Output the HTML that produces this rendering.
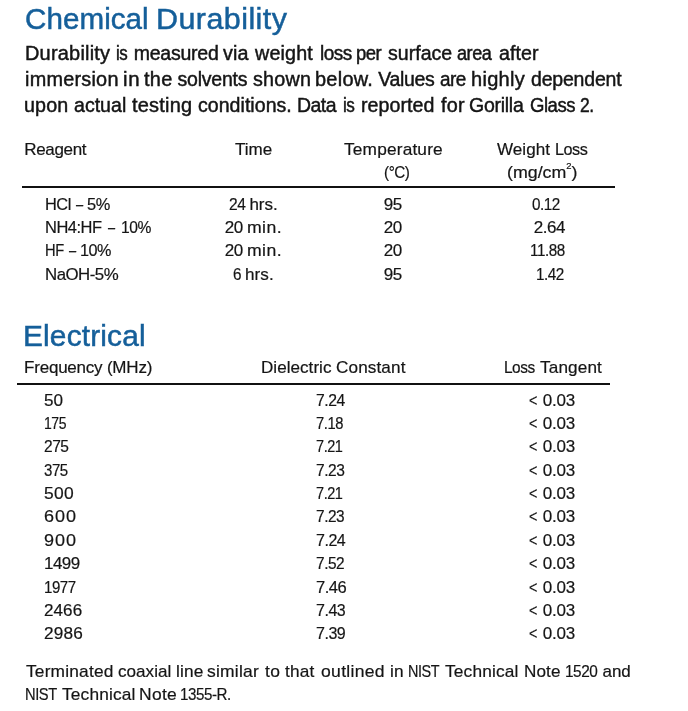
<!DOCTYPE html>
<html><head><meta charset="utf-8">
<style>
html,body{margin:0;padding:0;background:#fff}
body{width:688px;height:711px;position:relative;overflow:hidden;font-family:"Liberation Sans",Arial,sans-serif;color:#151515}
div{position:absolute;white-space:nowrap;line-height:1;transform-origin:0 0;left:0;top:0}
.a{font-size:29.5px;color:#155f9a;-webkit-text-stroke:0.5px #155f9a}
.b{filter:grayscale(1);font-size:19.5px;-webkit-text-stroke:0.45px #151515}
.c{filter:grayscale(1);font-size:17px;-webkit-text-stroke:0.2px #151515}
sup{font-size:9px;vertical-align:9px;line-height:0}
i{display:inline-block;width:0;height:0}
.r{background:#111}
</style></head><body>
<div class="a" style="left:24.50px;top:4.30px;letter-spacing:0.05px;transform:scaleX(1.003)">Chemical</div>
<div class="a" style="left:156.04px;top:4.30px;letter-spacing:0.44px;transform:scaleX(1.032)">Durability</div>
<div class="c" style="left:24.25px;top:140.70px;letter-spacing:-0.33px">Reagent</div>
<div class="c" style="left:235.00px;top:140.70px">Time</div>
<div class="c" style="left:344.20px;top:140.70px;letter-spacing:0.16px;transform:scaleX(1.017)">Temperature</div>
<div class="c" style="left:383.80px;top:163.50px;letter-spacing:-0.50px;transform:scaleX(0.898)">(°C)</div>
<div class="c" style="left:497.30px;top:140.70px;letter-spacing:0.04px;transform:scaleX(1.004)">Weight</div>
<div class="c" style="left:554.85px;top:140.70px;letter-spacing:-0.50px;transform:scaleX(0.954)">Loss</div>
<div class="c" style="left:507.45px;top:163.50px;transform:scaleX(1.047)">(mg/cm<sup>2</sup>)</div>
<div class="c" style="left:45.34px;top:195.90px;letter-spacing:-0.50px;transform:scaleX(0.964)">HCl</div>
<div class="c" style="left:76.10px;top:195.90px;transform:scaleX(0.760)">–</div>
<div class="c" style="left:87.14px;top:195.90px;letter-spacing:-0.50px;transform:scaleX(0.964)">5%</div>
<div class="c" style="left:45.33px;top:218.90px;letter-spacing:-0.50px;transform:scaleX(0.969)">NH4:HF</div>
<div class="c" style="left:108.40px;top:218.90px;transform:scaleX(0.750)">–</div>
<div class="c" style="left:120.68px;top:218.90px;letter-spacing:-0.50px;transform:scaleX(0.919)">10%</div>
<div class="c" style="left:45.44px;top:242.40px;letter-spacing:-0.50px;transform:scaleX(0.863)">HF</div>
<div class="c" style="left:69.10px;top:242.40px;transform:scaleX(0.760)">–</div>
<div class="c" style="left:80.15px;top:242.40px;letter-spacing:-0.50px;transform:scaleX(0.953)">10%</div>
<div class="c" style="left:45.31px;top:265.60px;letter-spacing:-0.50px;transform:scaleX(0.989)">NaOH-5%</div>
<div class="c" style="left:228.99px;top:195.90px;letter-spacing:-0.50px;transform:scaleX(0.914)">24</div>
<div class="c" style="left:249.40px;top:195.90px;letter-spacing:-0.03px">hrs.</div>
<div class="c" style="left:224.70px;top:218.90px;letter-spacing:-0.30px">20</div>
<div class="c" style="left:247.06px;top:218.90px;letter-spacing:0.40px;transform:scaleX(1.038)">min.</div>
<div class="c" style="left:224.70px;top:242.40px;letter-spacing:-0.30px">20</div>
<div class="c" style="left:247.06px;top:242.40px;letter-spacing:0.40px;transform:scaleX(1.038)">min.</div>
<div class="c" style="left:232.80px;top:265.60px;transform:scaleX(0.900)">6</div>
<div class="c" style="left:244.89px;top:265.60px;letter-spacing:0.05px;transform:scaleX(1.006)">hrs.</div>
<div class="c" style="left:383.70px;top:195.90px;letter-spacing:-0.50px">95</div>
<div class="c" style="left:383.70px;top:218.90px;letter-spacing:-0.50px">20</div>
<div class="c" style="left:383.70px;top:242.40px;letter-spacing:-0.50px">20</div>
<div class="c" style="left:383.70px;top:265.60px;letter-spacing:-0.50px">95</div>
<div class="c" style="left:532.20px;top:195.90px;letter-spacing:-0.50px;transform:scaleX(0.898)">0.12</div>
<div class="c" style="left:533.70px;top:218.90px;letter-spacing:-0.47px">2.64</div>
<div class="c" style="left:530.41px;top:242.40px;letter-spacing:-0.50px;transform:scaleX(0.895)">11.88</div>
<div class="c" style="left:535.70px;top:265.60px;letter-spacing:-0.50px;transform:scaleX(0.898)">1.42</div>
<div class="a" style="left:22.78px;top:320.50px;letter-spacing:0.16px;transform:scaleX(1.012)">Electrical</div>
<div class="c" style="left:24.10px;top:359.30px;letter-spacing:-0.23px">Frequency</div>
<div class="c" style="left:106.90px;top:359.30px;letter-spacing:-0.20px">(MHz)</div>
<div class="c" style="left:261.00px;top:359.00px;letter-spacing:0.03px;transform:scaleX(1.004)">Dielectric</div>
<div class="c" style="left:335.89px;top:359.00px;letter-spacing:0.10px;transform:scaleX(1.010)">Constant</div>
<div class="c" style="left:503.59px;top:359.00px;letter-spacing:-0.50px;transform:scaleX(0.907)">Loss</div>
<div class="c" style="left:540.00px;top:359.00px;letter-spacing:0.12px;transform:scaleX(1.011)">Tangent</div>
<div class="c" style="left:44.19px;top:391.50px;letter-spacing:0.10px;transform:scaleX(1.006)">50</div>
<div class="c" style="left:315.58px;top:391.50px;letter-spacing:-0.50px;transform:scaleX(0.925)">7.24</div>
<div class="c" style="left:528.95px;top:391.50px;transform:scaleX(0.850)">&lt;</div>
<div class="c" style="left:542.80px;top:391.50px;letter-spacing:-0.23px">0.03</div>
<div class="c" style="left:44.38px;top:414.70px;letter-spacing:-0.50px;transform:scaleX(0.823)">175</div>
<div class="c" style="left:315.63px;top:414.70px;letter-spacing:-0.50px;transform:scaleX(0.866)">7.18</div>
<div class="c" style="left:528.95px;top:414.70px;transform:scaleX(0.850)">&lt;</div>
<div class="c" style="left:542.80px;top:414.70px;letter-spacing:-0.23px">0.03</div>
<div class="c" style="left:44.29px;top:438.40px;letter-spacing:-0.50px;transform:scaleX(0.912)">275</div>
<div class="c" style="left:315.65px;top:438.40px;letter-spacing:-0.50px;transform:scaleX(0.852)">7.21</div>
<div class="c" style="left:528.95px;top:438.40px;transform:scaleX(0.850)">&lt;</div>
<div class="c" style="left:542.80px;top:438.40px;letter-spacing:-0.23px">0.03</div>
<div class="c" style="left:44.32px;top:461.80px;letter-spacing:-0.50px;transform:scaleX(0.885)">375</div>
<div class="c" style="left:315.59px;top:461.80px;letter-spacing:-0.50px;transform:scaleX(0.915)">7.23</div>
<div class="c" style="left:528.95px;top:461.80px;transform:scaleX(0.850)">&lt;</div>
<div class="c" style="left:542.80px;top:461.80px;letter-spacing:-0.23px">0.03</div>
<div class="c" style="left:44.18px;top:484.90px;letter-spacing:0.32px;transform:scaleX(1.024)">500</div>
<div class="c" style="left:315.65px;top:484.90px;letter-spacing:-0.50px;transform:scaleX(0.852)">7.21</div>
<div class="c" style="left:528.95px;top:484.90px;transform:scaleX(0.850)">&lt;</div>
<div class="c" style="left:542.80px;top:484.90px;letter-spacing:-0.23px">0.03</div>
<div class="c" style="left:44.14px;top:508.30px;letter-spacing:0.88px;transform:scaleX(1.061)">600</div>
<div class="c" style="left:315.59px;top:508.30px;letter-spacing:-0.50px;transform:scaleX(0.908)">7.23</div>
<div class="c" style="left:528.95px;top:508.30px;transform:scaleX(0.850)">&lt;</div>
<div class="c" style="left:542.80px;top:508.30px;letter-spacing:-0.23px">0.03</div>
<div class="c" style="left:44.14px;top:531.70px;letter-spacing:0.88px;transform:scaleX(1.061)">900</div>
<div class="c" style="left:315.56px;top:531.70px;letter-spacing:-0.50px;transform:scaleX(0.941)">7.24</div>
<div class="c" style="left:528.95px;top:531.70px;transform:scaleX(0.850)">&lt;</div>
<div class="c" style="left:542.80px;top:531.70px;letter-spacing:-0.23px">0.03</div>
<div class="c" style="left:44.20px;top:555.00px;letter-spacing:-0.50px;transform:scaleX(0.997)">1499</div>
<div class="c" style="left:315.59px;top:555.00px;letter-spacing:-0.50px;transform:scaleX(0.908)">7.52</div>
<div class="c" style="left:528.95px;top:555.00px;transform:scaleX(0.850)">&lt;</div>
<div class="c" style="left:542.80px;top:555.00px;letter-spacing:-0.23px">0.03</div>
<div class="c" style="left:44.32px;top:578.60px;letter-spacing:-0.50px;transform:scaleX(0.884)">1977</div>
<div class="c" style="left:315.53px;top:578.60px;letter-spacing:-0.50px;transform:scaleX(0.974)">7.46</div>
<div class="c" style="left:528.95px;top:578.60px;transform:scaleX(0.850)">&lt;</div>
<div class="c" style="left:542.80px;top:578.60px;letter-spacing:-0.23px">0.03</div>
<div class="c" style="left:44.20px;top:601.60px;letter-spacing:0.05px;transform:scaleX(1.004)">2466</div>
<div class="c" style="left:315.56px;top:601.60px;letter-spacing:-0.50px;transform:scaleX(0.941)">7.43</div>
<div class="c" style="left:528.95px;top:601.60px;transform:scaleX(0.850)">&lt;</div>
<div class="c" style="left:542.80px;top:601.60px;letter-spacing:-0.23px">0.03</div>
<div class="c" style="left:44.19px;top:624.90px;letter-spacing:0.15px;transform:scaleX(1.012)">2986</div>
<div class="c" style="left:315.56px;top:624.90px;letter-spacing:-0.50px;transform:scaleX(0.941)">7.39</div>
<div class="c" style="left:528.95px;top:624.90px;transform:scaleX(0.850)">&lt;</div>
<div class="c" style="left:542.80px;top:624.90px;letter-spacing:-0.23px">0.03</div>
<div class="b" style="left:24.98px;top:44.00px;letter-spacing:0.21px;transform:scaleX(1.023)">Durability</div>
<div class="b" style="left:116.03px;top:44.00px;letter-spacing:-0.50px;transform:scaleX(0.868)">is</div>
<div class="b" style="left:133.75px;top:44.00px;letter-spacing:-0.24px">measured</div>
<div class="b" style="left:222.50px;top:44.00px;letter-spacing:0.15px;transform:scaleX(1.012)">via</div>
<div class="b" style="left:254.75px;top:44.00px;letter-spacing:0.14px;transform:scaleX(1.012)">weight</div>
<div class="b" style="left:319.52px;top:44.00px;letter-spacing:-0.50px;transform:scaleX(0.976)">loss</div>
<div class="b" style="left:355.65px;top:44.00px;letter-spacing:-0.50px;transform:scaleX(0.948)">per</div>
<div class="b" style="left:388.00px;top:44.00px;letter-spacing:0.02px;transform:scaleX(1.002)">surface</div>
<div class="b" style="left:456.70px;top:44.00px;letter-spacing:-0.50px;transform:scaleX(0.930)">area</div>
<div class="b" style="left:498.75px;top:44.00px;letter-spacing:0.07px;transform:scaleX(1.007)">after</div>
<div class="b" style="left:24.98px;top:70.00px;letter-spacing:0.22px;transform:scaleX(1.019)">immersion</div>
<div class="b" style="left:122.70px;top:70.00px;letter-spacing:0.62px;transform:scaleX(1.046)">in</div>
<div class="b" style="left:143.80px;top:70.00px;letter-spacing:0.30px;transform:scaleX(1.022)">the</div>
<div class="b" style="left:177.50px;top:70.00px;letter-spacing:-0.21px">solvents</div>
<div class="b" style="left:252.90px;top:70.00px;letter-spacing:0.19px;transform:scaleX(1.013)">shown</div>
<div class="b" style="left:314.98px;top:70.00px;letter-spacing:0.25px;transform:scaleX(1.023)">below.</div>
<div class="b" style="left:378.20px;top:70.00px;letter-spacing:-0.34px">Values</div>
<div class="b" style="left:440.40px;top:70.00px;letter-spacing:-0.50px;transform:scaleX(0.970)">are</div>
<div class="b" style="left:471.17px;top:70.00px;letter-spacing:0.28px;transform:scaleX(1.027)">highly</div>
<div class="b" style="left:531.00px;top:70.00px;letter-spacing:-0.19px">dependent</div>
<div class="b" style="left:24.24px;top:96.20px;letter-spacing:0.14px;transform:scaleX(1.010)">upon</div>
<div class="b" style="left:74.40px;top:96.20px;letter-spacing:0.02px;transform:scaleX(1.002)">actual</div>
<div class="b" style="left:132.40px;top:96.20px;letter-spacing:0.22px;transform:scaleX(1.024)">testing</div>
<div class="b" style="left:198.00px;top:96.20px;letter-spacing:0.03px;transform:scaleX(1.003)">conditions.</div>
<div class="b" style="left:297.10px;top:96.20px;letter-spacing:-0.50px;transform:scaleX(0.997)">Data</div>
<div class="b" style="left:343.12px;top:96.20px;letter-spacing:-0.50px;transform:scaleX(0.880)">is</div>
<div class="b" style="left:361.39px;top:96.20px;letter-spacing:0.06px;transform:scaleX(1.006)">reported</div>
<div class="b" style="left:440.75px;top:96.20px;letter-spacing:0.19px;transform:scaleX(1.016)">for</div>
<div class="b" style="left:469.10px;top:96.20px;letter-spacing:-0.28px">Gorilla</div>
<div class="b" style="left:530.30px;top:96.20px;letter-spacing:-0.50px;transform:scaleX(0.951)">Glass</div>
<div class="b" style="left:580.10px;top:96.20px;letter-spacing:-0.50px;transform:scaleX(0.896)">2.</div>
<div class="c" style="left:25.60px;top:663.00px;letter-spacing:0.18px;transform:scaleX(1.019)">Terminated</div>
<div class="c" style="left:118.10px;top:663.00px;letter-spacing:0.03px;transform:scaleX(1.004)">coaxial</div>
<div class="c" style="left:175.88px;top:663.00px;letter-spacing:0.14px;transform:scaleX(1.017)">line</div>
<div class="c" style="left:207.07px;top:663.00px;letter-spacing:0.22px;transform:scaleX(1.027)">similar</div>
<div class="c" style="left:265.00px;top:663.00px;letter-spacing:0.38px;transform:scaleX(1.026)">to</div>
<div class="c" style="left:285.00px;top:663.00px;letter-spacing:0.15px;transform:scaleX(1.015)">that</div>
<div class="c" style="left:321.00px;top:663.00px;letter-spacing:0.29px;transform:scaleX(1.033)">outlined</div>
<div class="c" style="left:390.48px;top:663.00px;letter-spacing:0.20px;transform:scaleX(1.018)">in</div>
<div class="c" style="left:408.15px;top:663.00px;letter-spacing:-0.50px;transform:scaleX(0.849)">NIST</div>
<div class="c" style="left:445.40px;top:663.00px;letter-spacing:0.16px;transform:scaleX(1.018)">Technical</div>
<div class="c" style="left:523.74px;top:663.00px;letter-spacing:0.08px;transform:scaleX(1.007)">Note</div>
<div class="c" style="left:564.90px;top:663.00px;letter-spacing:-0.50px;transform:scaleX(0.904)">1520</div>
<div class="c" style="left:602.60px;top:663.00px;letter-spacing:-0.10px">and</div>
<div class="c" style="left:25.14px;top:685.70px;letter-spacing:-0.50px;transform:scaleX(0.863)">NIST</div>
<div class="c" style="left:61.90px;top:685.70px;letter-spacing:0.16px;transform:scaleX(1.018)">Technical</div>
<div class="c" style="left:138.72px;top:685.70px;letter-spacing:0.31px;transform:scaleX(1.026)">Note</div>
<div class="c" style="left:180.11px;top:685.70px;letter-spacing:-0.50px;transform:scaleX(0.891)">1355-R.</div>
<div class="r" style="left:22px;top:186px;width:592.5px;height:2px"></div>
<div class="r" style="left:16.5px;top:383px;width:593.5px;height:2px"></div>
</body></html>
